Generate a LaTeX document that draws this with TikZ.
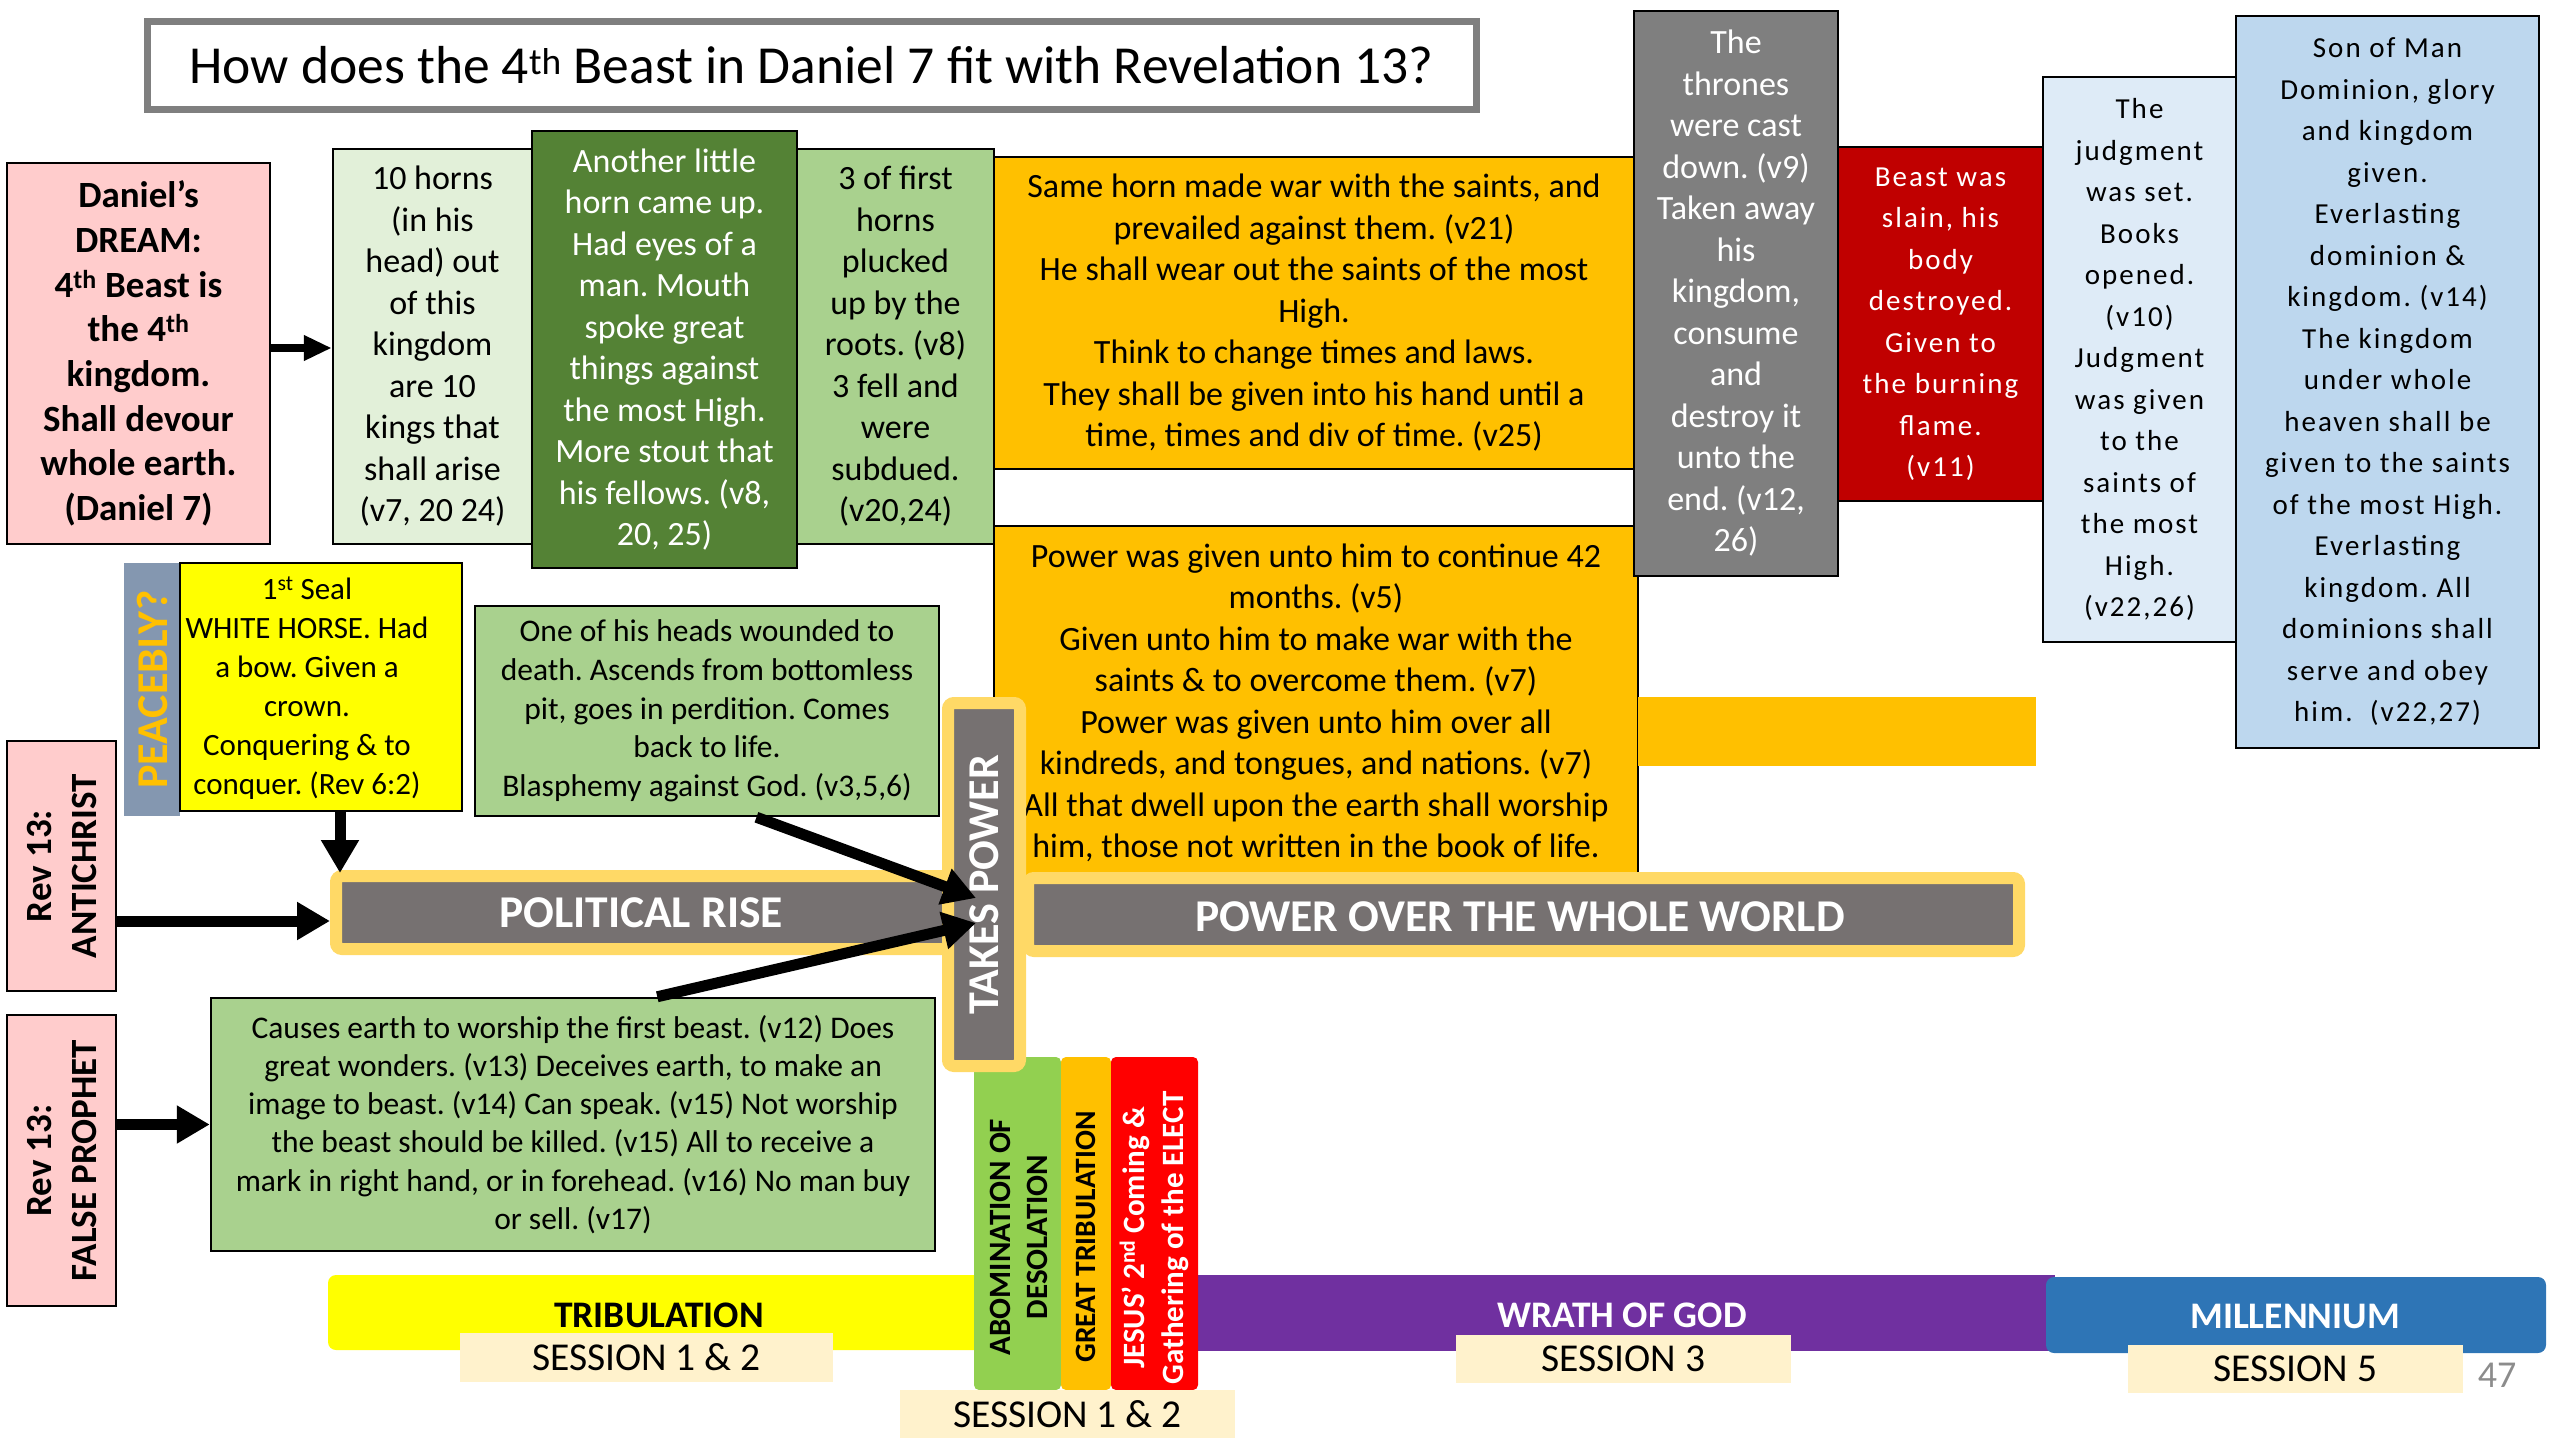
\documentclass[tikz,border=0pt]{standalone}
\usepackage{fontspec}
\setmainfont{Carlito}
\newfontfamily\spc[LetterSpace=7]{Carlito}
\usetikzlibrary{arrows.meta,calc}
\definecolor{pinkc}{HTML}{FFCCCC}
\definecolor{lgreen}{HTML}{E2F0D9}
\definecolor{dgreen}{HTML}{548235}
\definecolor{mgreen}{HTML}{A9D18E}
\definecolor{orangec}{HTML}{FFC000}
\definecolor{grayc}{HTML}{7F7F7F}
\definecolor{dredc}{HTML}{C00000}
\definecolor{lblue}{HTML}{DEEBF7}
\definecolor{mblue}{HTML}{BDD7EE}
\definecolor{yellowc}{HTML}{FFFF00}
\definecolor{slate}{HTML}{8497B0}
\definecolor{bargray}{HTML}{767171}
\definecolor{baryel}{HTML}{FFD966}
\definecolor{bgreen}{HTML}{92D050}
\definecolor{redc}{HTML}{FF0000}
\definecolor{purplec}{HTML}{7030A0}
\definecolor{bluec}{HTML}{2E75B6}
\definecolor{cream}{HTML}{FFF2CC}
\definecolor{pagegray}{HTML}{8C8C8C}
\frenchspacing
\begin{document}
\begin{tikzpicture}[x=1pt,y=-1pt,
  bx/.style={rectangle,draw=black,line width=2.5pt,inner sep=0pt,align=center},
  fl/.style={rectangle,inner sep=0pt,align=center},
  txt/.style={inner sep=0pt,align=center},
  f34/.style={font=\fontsize{34}{41.5}\selectfont},
  f31/.style={font=\fontsize{31.5}{38.7}\selectfont},
  fsp/.style={font=\spc\fontsize{29}{41.5}\selectfont},
  fdream/.style={font=\bfseries\fontsize{37}{44.7}\selectfont},
  frot/.style={font=\bfseries\fontsize{37}{45}\selectfont,rotate=90},
  fbar/.style={font=\bfseries\fontsize{45.5}{50}\selectfont,text=white},
  fsess/.style={font=\fontsize{39.5}{42}\selectfont},
  bar/.style={rectangle,draw=baryel,line width=12pt,fill=bargray,rounded corners=6pt,inner sep=0pt},
  sess/.style={rectangle,fill=cream,inner sep=0pt},
  arrA/.style={line width=11pt,-{Triangle[length=33pt,width=36pt]}},
  arrB/.style={line width=8pt,-{Triangle[length=28pt,width=24pt]}}
]
\useasboundingbox (0,0) rectangle (2560,1440);

% title
\node[rectangle,draw=grayc,line width=7pt,fill=white,minimum width=1329pt,minimum height=88pt,inner sep=0pt,font=\fontsize{53.5}{60}\selectfont] (title) at (811.5,65) {How does the 4\textsuperscript{th} Beast in Daniel 7 fit with Revelation 13?};

% Daniel row
\node[bx,fill=pinkc,fdream,minimum width=263pt,minimum height=381pt] (dream) at (138.5,353.5)
 {Daniel’s\\DREAM:\\4\textsuperscript{th} Beast is\\the 4\textsuperscript{th}\\kingdom.\\Shall devour\\whole earth.\\(Daniel 7)};
\node[bx,fill=lgreen,f34,minimum width=199pt,minimum height=395pt] (horns) at (432.5,346.5)
 {10 horns\\(in his\\head) out\\of this\\kingdom\\are 10\\kings that\\shall arise\\(v7, 20 24)};
\node[bx,fill=dgreen,f34,text=white,minimum width=265pt,minimum height=437pt] (little) at (664.5,349.5)
 {Another little\\horn came up.\\Had eyes of a\\man. Mouth\\spoke great\\things against\\the most High.\\More stout that\\his fellows. (v8,\\20, 25)};
\node[bx,fill=mgreen,f34,minimum width=197pt,minimum height=395pt] (three) at (895.5,346.5)
 {3 of first\\horns\\plucked\\up by the\\roots. (v8)\\3 fell and\\were\\subdued.\\(v20,24)};
\node[bx,fill=orangec,f34,minimum width=640pt,minimum height=312pt] (war) at (1314,313)
 {Same horn made war with the saints, and\\prevailed against them. (v21)\\He shall wear out the saints of the most\\High.\\Think to change times and laws.\\They shall be given into his hand until a\\time, times and div of time. (v25)};

% lower orange box and band
\node[bx,fill=orangec,f34,minimum width=644pt,minimum height=354pt] (power) at (1316,703)
 {Power was given unto him to continue 42\\months. (v5)\\Given unto him to make war with the\\saints \& to overcome them. (v7)\\Power was given unto him over all\\kindreds, and tongues, and nations. (v7)\\All that dwell upon the earth shall worship\\him, those not written in the book of life.};
\node[fl,fill=orangec,minimum width=398pt,minimum height=69pt] (band) at (1837,731.5) {};

\node[bx,fill=grayc,f34,text=white,minimum width=204pt,minimum height=565pt] (thrones) at (1736,293.5)
 {The\\thrones\\were cast\\down. (v9)\\Taken away\\his\\kingdom,\\consume\\and\\destroy it\\unto the\\end. (v12,\\26)};
\node[bx,fill=dredc,fsp,text=white,minimum width=205pt,minimum height=354pt] (slain) at (1940.5,324)
 {Beast was\\slain, his\\body\\destroyed.\\Given to\\the burning\\flame.\\(v11)};
\node[bx,fill=lblue,fsp,minimum width=193pt,minimum height=565pt] (judg) at (2139.5,359.5)
 {The\\judgment\\was set.\\Books\\opened.\\(v10)\\Judgment\\was given\\to the\\saints of\\the most\\High.\\(v22,26)};
\node[bx,fill=mblue,fsp,minimum width=303pt,minimum height=732pt] (son) at (2387.5,382)
 {Son of Man\\Dominion, glory\\and kingdom\\given.\\Everlasting\\dominion \&\\kingdom. (v14)\\The kingdom\\under whole\\heaven shall be\\given to the saints\\of the most High.\\Everlasting\\kingdom. All\\dominions shall\\serve and obey\\him.~~(v22,27)};

% seal
\node[fl,fill=slate,minimum width=56pt,minimum height=253pt] (strip) at (152,689.5) {};
\node[txt,frot,font=\bfseries\fontsize{44}{50}\selectfont,text=orangec] (peace) at (strip.center) {PEACEBLY?};
\node[bx,fill=yellowc,minimum width=282pt,minimum height=248pt] (seal) at (321,687) {};
\node[txt,font=\fontsize{31}{39}\selectfont] (sealtxt) at (307,688)
 {1\textsuperscript{st} Seal\\WHITE HORSE. Had\\a bow. Given a\\crown.\\Conquering \& to\\conquer. (Rev 6:2)};

\node[bx,fill=mgreen,f31,minimum width=464pt,minimum height=210pt] (wound) at (707,711)
 {One of his heads wounded to\\death. Ascends from bottomless\\pit, goes in perdition. Comes\\back to life.\\Blasphemy against God. (v3,5,6)};

% Rev 13 labels
\node[bx,fill=pinkc,minimum width=109pt,minimum height=250pt] (anti) at (61.5,866) {};
\node[txt,frot] (antitxt) at (anti.center) {Rev 13:\\ANTICHRIST};
\node[bx,fill=pinkc,minimum width=109pt,minimum height=291pt] (fp) at (61.5,1160.5) {};
\node[txt,frot] (fptxt) at (fp.center) {Rev 13:\\FALSE PROPHET};

\node[bx,fill=mgreen,font=\fontsize{31.5}{38.2}\selectfont,minimum width=724pt,minimum height=253pt] (fpg) at (573,1124.5)
 {Causes earth to worship the first beast. (v12) Does\\great wonders. (v13) Deceives earth, to make an\\image to beast. (v14) Can speak. (v15) Not worship\\the beast should be killed. (v15) All to receive a\\mark in right hand, or in forehead. (v16) No man buy\\or sell. (v17)};

% bottom timeline
\node[fl,fill=yellowc,rounded corners=8pt,minimum width=662pt,minimum height=75pt] (trib) at (659,1312.5) {};
\node[txt,font=\bfseries\fontsize{37.5}{40}\selectfont] (tribtxt) at (659,1315) {TRIBULATION};
\node[fl,fill=purplec,minimum width=865pt,minimum height=76pt] (wrath) at (1622.5,1313) {};
\node[txt,font=\bfseries\fontsize{37.5}{40}\selectfont,text=white] (wrathtxt) at (1622,1315) {WRATH OF GOD};
\node[fl,fill=bluec,rounded corners=8pt,minimum width=500pt,minimum height=76pt] (mill) at (2296,1315) {};
\node[txt,font=\bfseries\fontsize{37.5}{40}\selectfont,text=white] (milltxt) at (2295,1316) {MILLENNIUM};

\node[fl,fill=bgreen,rounded corners=5pt,minimum width=87pt,minimum height=333pt] (abom) at (1017.5,1223.5) {};
\node[fl,fill=orangec,rounded corners=5pt,minimum width=50pt,minimum height=333pt] (gt) at (1086,1223.5) {};
\node[fl,fill=redc,rounded corners=5pt,minimum width=87pt,minimum height=333pt] (jesus) at (1154.5,1223.5) {};
\node[txt,rotate=90,font=\bfseries\fontsize{31}{37}\selectfont] (abomtxt) at (1019,1237) {ABOMINATION OF\\DESOLATION};
\node[txt,rotate=90,font=\bfseries\fontsize{29.5}{35}\selectfont] (gttxt) at (1086,1237) {GREAT TRIBULATION};
\node[txt,rotate=90,font=\bfseries\fontsize{31}{39}\selectfont,text=white] (jesustxt) at (1154,1238) {JESUS’ 2\textsuperscript{nd} Coming \&\\Gathering of the ELECT};

\node[sess,minimum width=373pt,minimum height=49pt,fsess] (s1) at (646.5,1357.5) {SESSION 1 \& 2};
\node[sess,minimum width=335pt,minimum height=48pt,fsess] (s2) at (1067.5,1414) {SESSION 1 \& 2};
\node[sess,minimum width=335pt,minimum height=48pt,fsess] (s3) at (1623.5,1359) {SESSION 3};
\node[sess,minimum width=335pt,minimum height=48pt,fsess] (s5) at (2295.5,1369) {SESSION 5};
\node[txt,font=\fontsize{38}{40}\selectfont,text=pagegray] (pg) at (2497,1375) {47};

% bars
\node[bar,minimum width=619pt,minimum height=73pt] (political) at (645.5,912.5) {};
\node[txt,fbar] (poltxt) at (641,913) {POLITICAL RISE};
\node[bar,minimum width=991pt,minimum height=73pt] (world) at (1523.5,914.5) {};
\node[txt,fbar] (worldtxt) at (1520,917) {POWER OVER THE WHOLE WORLD};
\node[bar,minimum width=72pt,minimum height=363pt] (takes) at (984,884.5) {};
\node[txt,rotate=90,font=\bfseries\fontsize{44}{50}\selectfont,text=white] (takestxt) at (984,885) {TAKES POWER};

% connectors
\coordinate (polin) at (330,921);
\coordinate (polseal) at (340,873);
\coordinate (tp1) at (976,898);
\coordinate (tp2) at (976,923);
\draw[arrB] (dream.east |- 0,348) -- (horns.west |- 0,348);
\draw[arrA] (anti.east |- polin) -- (polin);
\draw[arrA] (seal.south -| polseal) -- (polseal);
\draw[arrA] ($(wound.south west)!0.606!(wound.south east)$) -- (tp1);
\draw[arrA] ($(fpg.north west)!0.616!(fpg.north east)$) -- (tp2);
\draw[arrA] (fp.east |- fpg.west) -- (fpg.west);
\end{tikzpicture}
\end{document}
